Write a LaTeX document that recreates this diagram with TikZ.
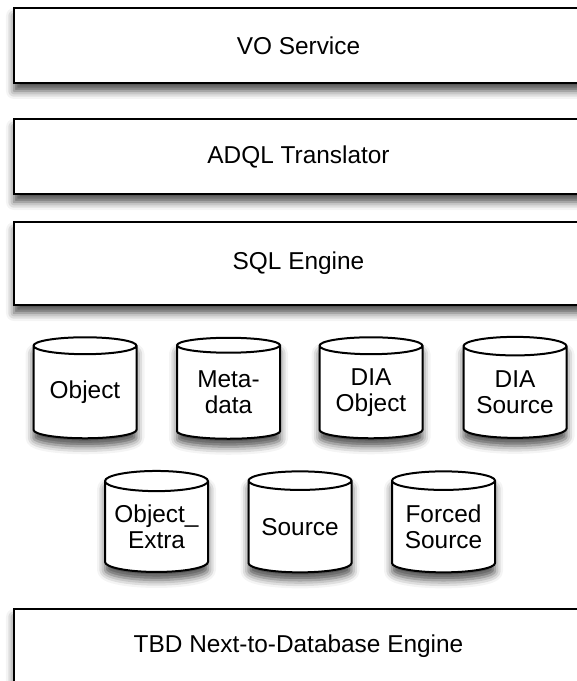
\documentclass[tikz,border=0pt]{standalone}
\usepackage{fontspec}
\setmainfont{Liberation Sans}
\usetikzlibrary{shapes.geometric,shadows.blur}

\begin{document}
\begin{tikzpicture}[
  x=0.75pt, y=-0.75pt,
  font=\fontsize{18.3}{19.5}\selectfont,
  layer/.style={draw, fill=white, line width=1.5pt, minimum width=426.75pt,
                minimum height=56.25pt, inner sep=0pt,
                blur shadow={shadow xshift=0pt, shadow yshift=-6pt,
                             shadow blur radius=6pt, shadow opacity=70}},
  table/.style={cylinder, shape border rotate=90, aspect=0.24, draw, fill=white,
                line width=1.5pt, align=center, inner sep=0pt,
                minimum width=77.25pt, minimum height=75.75pt,
                blur shadow={shadow xshift=0pt, shadow yshift=-6pt,
                             shadow blur radius=6pt, shadow opacity=70}}
]
\path[use as bounding box, clip] (0,0) rectangle (577,681);

% Service stack, top to bottom
\node[layer] (vo) at (298.5,45.5) {VO Service};
\node[layer] (adql) at (298.5,156.5) {ADQL Translator};
\node[layer, minimum height=62.25pt] (sql) at (298.5,263.5) {SQL Engine};

% Tables, first row
\node[table] (object) at (85,392.5) {Object};
\node[table] (meta) at (228.5,392.5) {Meta-\\data};
\node[table] (diaobj) at (371,392.5) {DIA\\Object};
\node[table] (diasrc) at (515,392.5) {DIA\\Source};

% Tables, second row
\node[table] (objextra) at (156.5,527) {Object\_\\Extra};
\node[table] (source) at (300,527) {Source};
\node[table] (forced) at (443.5,527) {Forced\\Source};

% Engine under the tables
\node[layer] (tbd) at (298.5,646.5) {TBD Next-to-Database Engine};

\end{tikzpicture}
\end{document}
